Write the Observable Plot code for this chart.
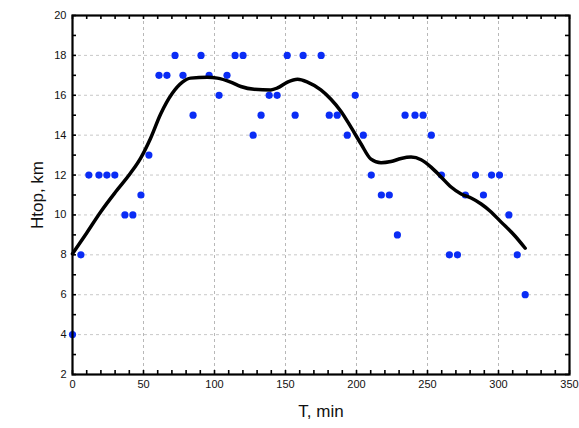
<!DOCTYPE html>
<html>
<head>
<meta charset="utf-8">
<script src="https://cdn.jsdelivr.net/npm/d3@7"></script>
<script src="https://cdn.jsdelivr.net/npm/@observablehq/plot@0.6"></script>
<style>
  html, body { margin: 0; padding: 0; background: white; }
  #chart svg {
    background: linear-gradient(#fcf8ee, #fcf8ee) 8px 3px / 100% 100% no-repeat, white;
    font-family: "Liberation Sans", Arial, sans-serif;
  }
</style>
</head>
<body>
<div id="chart"></div>
<script>
// Observed data points: time (min) and cloud-top height (km)
const tMin = [0, 5.9, 11.5, 18.6, 24.2, 29.8, 36.9, 42.5, 48.2, 53.8, 60.9, 66.5, 72.2, 77.8, 84.9, 90.5, 96.2, 103.2, 108.8, 114.5, 120.1, 127.2, 132.8, 138.5, 144.1, 151.2, 156.8, 162.4, 175.1, 180.8, 186.4, 193.5, 199.1, 204.8, 210.4, 217.5, 223.1, 228.8, 234.2, 241.2, 246.9, 252.7, 259.8, 265.4, 271.1, 276.7, 283.8, 289.4, 295.1, 300.7, 307.3, 313.2, 318.8];
const hTop = [4, 8, 12, 12, 12, 12, 10, 10, 11, 13, 17, 17, 18, 17, 15, 18, 17, 16, 17, 18, 18, 14, 15, 16, 16, 18, 15, 18, 18, 15, 15, 14, 16, 14, 12, 11, 11, 9, 15, 15, 15, 14, 12, 8, 8, 11, 12, 11, 12, 12, 10, 8, 6];

// Smoothed fit curve
const fitT = [0, 10, 19.8, 30.3, 40.9, 48, 55, 62, 70.3, 77.4, 83.2, 95, 102, 111.4, 118.5, 127.9, 139.7, 144.4, 151.4, 158.5, 165.5, 174.9, 182, 189, 196.1, 203.1, 210.2, 217.3, 224.3, 231.4, 238.4, 245.5, 252.5, 259.6, 266.6, 273.7, 280.7, 287.8, 294, 301.9, 311.3, 318.8];
const fitH = [8.05, 9.1, 10.15, 11.15, 12.1, 12.85, 13.85, 15.05, 16.1, 16.66, 16.86, 16.9, 16.86, 16.66, 16.44, 16.3, 16.27, 16.37, 16.66, 16.8, 16.66, 16.27, 15.8, 15.2, 14.4, 13.57, 12.8, 12.62, 12.68, 12.83, 12.9, 12.77, 12.4, 11.9, 11.4, 11.05, 10.85, 10.55, 10.2, 9.64, 8.97, 8.33];

const xMajor = [0, 50, 100, 150, 200, 250, 300, 350];
const yMajor = [2, 4, 6, 8, 10, 12, 14, 16, 18, 20];
const xMinor = d3.range(0, 351, 10);
const yMinor = d3.range(2, 20.01, 1);

const points = tMin.map((t, i) => ({t, h: hTop[i]}));
const fit = fitT.map((t, i) => ({t, h: fitH[i]}));

const W = 579, H = 428, ML = 72, MR = 10, MT = 15, MB = 54;
const innerW = W - ML - MR, innerH = H - MT - MB, TK = 4;
const tk = {stroke: "black", strokeWidth: 1.6};

const chart = Plot.plot({
  width: W, height: H,
  marginLeft: ML, marginRight: MR, marginTop: MT, marginBottom: MB,
  style: {fontFamily: "Liberation Sans, Arial, sans-serif", fontSize: "11px", color: "black", background: "transparent"},
  x: {domain: [0, 350]},
  y: {domain: [2, 20]},
  marks: [
    Plot.frame({fill: "white", stroke: null}),
    Plot.gridX(xMajor, {stroke: "#b8b8b8", strokeOpacity: 1, strokeDasharray: "3,3"}),
    Plot.gridY(yMajor, {stroke: "#c8c8c8", strokeOpacity: 1, strokeDasharray: "3,3"}),
    // minor ticks pointing inside the frame
    Plot.tickX(xMinor, {x: d => d, insetTop: innerH - TK, ...tk}),
    Plot.tickX(xMinor, {x: d => d, insetBottom: innerH - TK, ...tk}),
    Plot.tickY(yMinor, {y: d => d, insetRight: innerW - TK, ...tk}),
    Plot.tickY(yMinor, {y: d => d, insetLeft: innerW - TK, ...tk}),
    // labels
    Plot.axisX(xMajor, {anchor: "bottom", tickSize: 0, tickPadding: 6, fontSize: 11, fill: "#111", label: "T, min", labelAnchor: "center", labelArrow: "none", labelOffset: 42}),
    Plot.axisY(yMajor, {anchor: "left", tickSize: 0, tickPadding: 6, fontSize: 11, fill: "#111", label: "Htop, km", labelAnchor: "center", labelArrow: "none", labelOffset: 42}),
    Plot.dot(points, {x: "t", y: "h", r: 3.6, fill: "#0a2cf5", stroke: null}),
    Plot.line(fit, {x: "t", y: "h", stroke: "black", strokeWidth: 3.5, curve: "monotone-x"}),
    Plot.frame({stroke: "black", strokeWidth: 2.2})
  ]
});
document.getElementById("chart").appendChild(chart);

// enlarge axis titles
chart.querySelectorAll("g[aria-label='x-axis label'] text, g[aria-label='y-axis label'] text").forEach(t => {
  t.style.fontSize = "17px";
});
</script>
</body>
</html>
